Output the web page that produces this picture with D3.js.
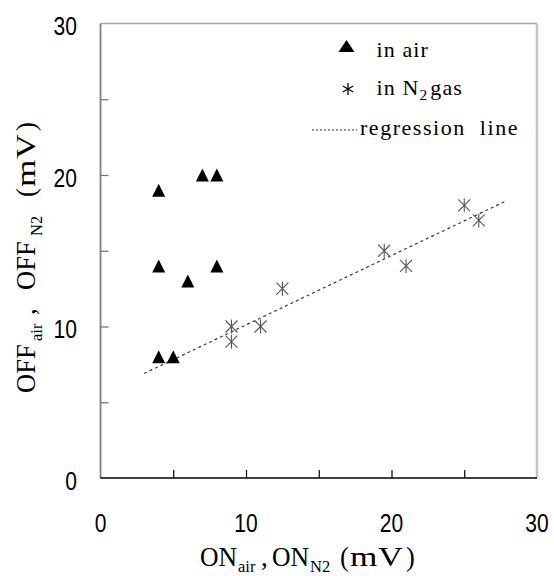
<!DOCTYPE html>
<html>
<head>
<meta charset="utf-8">
<script src="https://cdn.jsdelivr.net/npm/d3@7"></script>
<style>
  html, body { margin: 0; padding: 0; background: #fff; }
  svg { display: block; }
</style>
</head>
<body>
<svg id="chart" width="554" height="576"></svg>
<script>
// ---- data ----
const airX = [4, 4, 4, 5, 6, 7, 8, 8];
const airY = [19, 14, 8, 8, 13, 20, 20, 14];
const n2X = [9, 9, 11, 12.5, 19.5, 21, 25, 26];
const n2Y = [10, 9, 10, 12.5, 15, 14, 18, 17];
const regX = [3, 27.9];
const regY = [6.9, 18.3];
const xTickLabels = [0, 10, 20, 30];
const yTickLabels = [0, 10, 20, 30];
const minorTicks = [5, 10, 15, 20, 25];
const legendLabels = ["in air", "in N", "2", "gas", "regression  line"];

const svg = d3.select("#chart");
const x = d3.scaleLinear().domain([0, 30]).range([100.5, 537]);
const y = d3.scaleLinear().domain([0, 30]).range([478, 23.5]);

const serif = "'Liberation Serif', 'Times New Roman', serif";
const sans = "'Liberation Sans', Arial, sans-serif";

// frame top/right
svg.append("line").attr("x1", x(0)).attr("x2", x(30)).attr("y1", y(30)).attr("y2", y(30))
  .attr("stroke", "#a8a8a8").attr("stroke-width", 1.5);
svg.append("line").attr("x1", x(30)).attr("x2", x(30)).attr("y1", y(30)).attr("y2", y(0))
  .attr("stroke", "#c4c4c4").attr("stroke-width", 2.5);

// left axis ticks (inward)
const yAx = svg.append("g").attr("transform", `translate(${x(0)},0)`)
  .call(d3.axisLeft(y).tickValues(minorTicks).tickSize(-8).tickFormat(""));
yAx.select(".domain").remove();
yAx.selectAll("line").attr("stroke", "#707070").attr("stroke-width", 1.2);

// bottom axis ticks (inward)
const xAx = svg.append("g").attr("transform", `translate(0,${y(0)})`)
  .call(d3.axisBottom(x).tickValues(minorTicks).tickSize(-8).tickFormat(""));
xAx.select(".domain").remove();
xAx.selectAll("line").attr("stroke", "#000").attr("stroke-width", 1.2);

// axis lines
svg.append("line").attr("x1", x(0)).attr("x2", x(0)).attr("y1", y(30)).attr("y2", y(0))
  .attr("stroke", "#808080").attr("stroke-width", 1.8);
svg.append("line").attr("x1", x(0)).attr("x2", x(30)).attr("y1", y(0)).attr("y2", y(0))
  .attr("stroke", "#000").attr("stroke-width", 1.3);

// tick labels
svg.append("g").selectAll("text").data(yTickLabels).join("text")
  .attr("x", 77).attr("y", d => y(d) + 11.5)
  .attr("text-anchor", "end")
  .attr("font-family", sans).attr("font-size", 26)
  .attr("textLength", d => String(d).length * 11.7)
  .attr("lengthAdjust", "spacingAndGlyphs")
  .attr("fill", "#000")
  .text(d => d);

svg.append("g").selectAll("text").data(xTickLabels).join("text")
  .attr("x", d => x(d)).attr("y", 531.5)
  .attr("text-anchor", "middle")
  .attr("font-family", sans).attr("font-size", 26)
  .attr("textLength", d => String(d).length * 11.7)
  .attr("lengthAdjust", "spacingAndGlyphs")
  .attr("fill", "#000")
  .text(d => d);

// regression line
const regData = regX.map((v, i) => [v, regY[i]]);
svg.append("path").datum(regData)
  .attr("d", d3.line().x(d => x(d[0])).y(d => y(d[1])))
  .attr("fill", "none").attr("stroke", "#3a3a3a").attr("stroke-width", 1.2)
  .attr("stroke-dasharray", "3,3");

// N2 asterisks
const n2Data = n2X.map((v, i) => [v, n2Y[i]]);
svg.append("g").selectAll("path").data(n2Data).join("path")
  .attr("transform", d => `translate(${x(d[0])},${y(d[1])})`)
  .attr("d", "M-6,-6L6,6M-6,6L6,-6M0,-7L0,7")
  .attr("fill", "none").attr("stroke", "#555").attr("stroke-width", 1.1);

// air triangles
const airData = airX.map((v, i) => [v, airY[i]]);
svg.append("g").selectAll("path").data(airData).join("path")
  .attr("transform", d => `translate(${x(d[0])},${y(d[1])})`)
  .attr("d", "M0,-6.5L6.5,6.5L-6.5,6.5Z")
  .attr("fill", "#000");

// legend
const lg = svg.append("g");
lg.append("path").attr("transform", "translate(346.5,46)").attr("d", "M0,-6L8,6L-8,6Z").attr("fill", "#000");
lg.append("path").attr("transform", "translate(348,89)")
  .attr("d", "M0,-6L0,6M-5.2,-3L5.2,3M-5.2,3L5.2,-3")
  .attr("fill", "none").attr("stroke", "#000").attr("stroke-width", 1.2);
lg.append("line").attr("x1", 312).attr("x2", 357).attr("y1", 130).attr("y2", 130)
  .attr("stroke", "#333").attr("stroke-width", 1).attr("stroke-dasharray", "2,2");
const legFont = (t) => t.attr("font-family", serif).attr("font-size", 20)
  .attr("letter-spacing", 1).attr("fill", "#000").style("white-space", "pre");
lg.append("text").attr("transform", "translate(376.5,56.7) scale(1.1,1)").call(legFont)
  .text(legendLabels[0]);
const t2 = lg.append("text").attr("transform", "translate(376.5,95) scale(1.1,1)").call(legFont);
t2.append("tspan").text(legendLabels[1]);
t2.append("tspan").attr("dy", 5).attr("font-size", 14).attr("letter-spacing", 0).text(legendLabels[2]);
t2.append("tspan").attr("dy", -5).attr("dx", 3).text(legendLabels[3]);
lg.append("text").attr("transform", "translate(360,135) scale(1.1,1)").call(legFont)
  .attr("letter-spacing", 1.4)
  .text(legendLabels[4]);

// axis titles: segments [text, start offset, horizontal scale, subscript?]
const xTitleSegs = [["ON", 0, 0.97, false], ["air", 38, 1, true], [",", 61, 1, false],
                    ["ON", 72, 0.97, false], ["N2", 110, 1, true],
                    ["(", 140, 1, false], ["m", 150, 1.33, false], ["V", 178, 1.3, false], [")", 206, 1, false]];
const yTitleSegs = [["OFF", 0, 1, false], ["air", 52, 1, true], [",", 78, 1, false],
                    ["OFF", 103, 1, false], ["N2", 157, 1, true],
                    ["(", 196, 1, false], ["m", 206, 1.33, false], ["V", 234, 1.3, false], [")", 262, 1, false]];

function drawTitle(g, segs) {
  segs.forEach(s => {
    g.append("text")
      .attr("transform", `translate(${s[1]},${s[3] ? 6.5 : 0}) scale(${s[2]},1)`)
      .attr("font-family", serif)
      .attr("font-size", s[3] ? 16.5 : 26.5)
      .attr("fill", "#000")
      .text(s[0]);
  });
}
drawTitle(svg.append("g").attr("transform", "translate(200,565.5)"), xTitleSegs);
drawTitle(svg.append("g").attr("transform", "translate(35,393) rotate(-90)"), yTitleSegs);
</script>
</body>
</html>
